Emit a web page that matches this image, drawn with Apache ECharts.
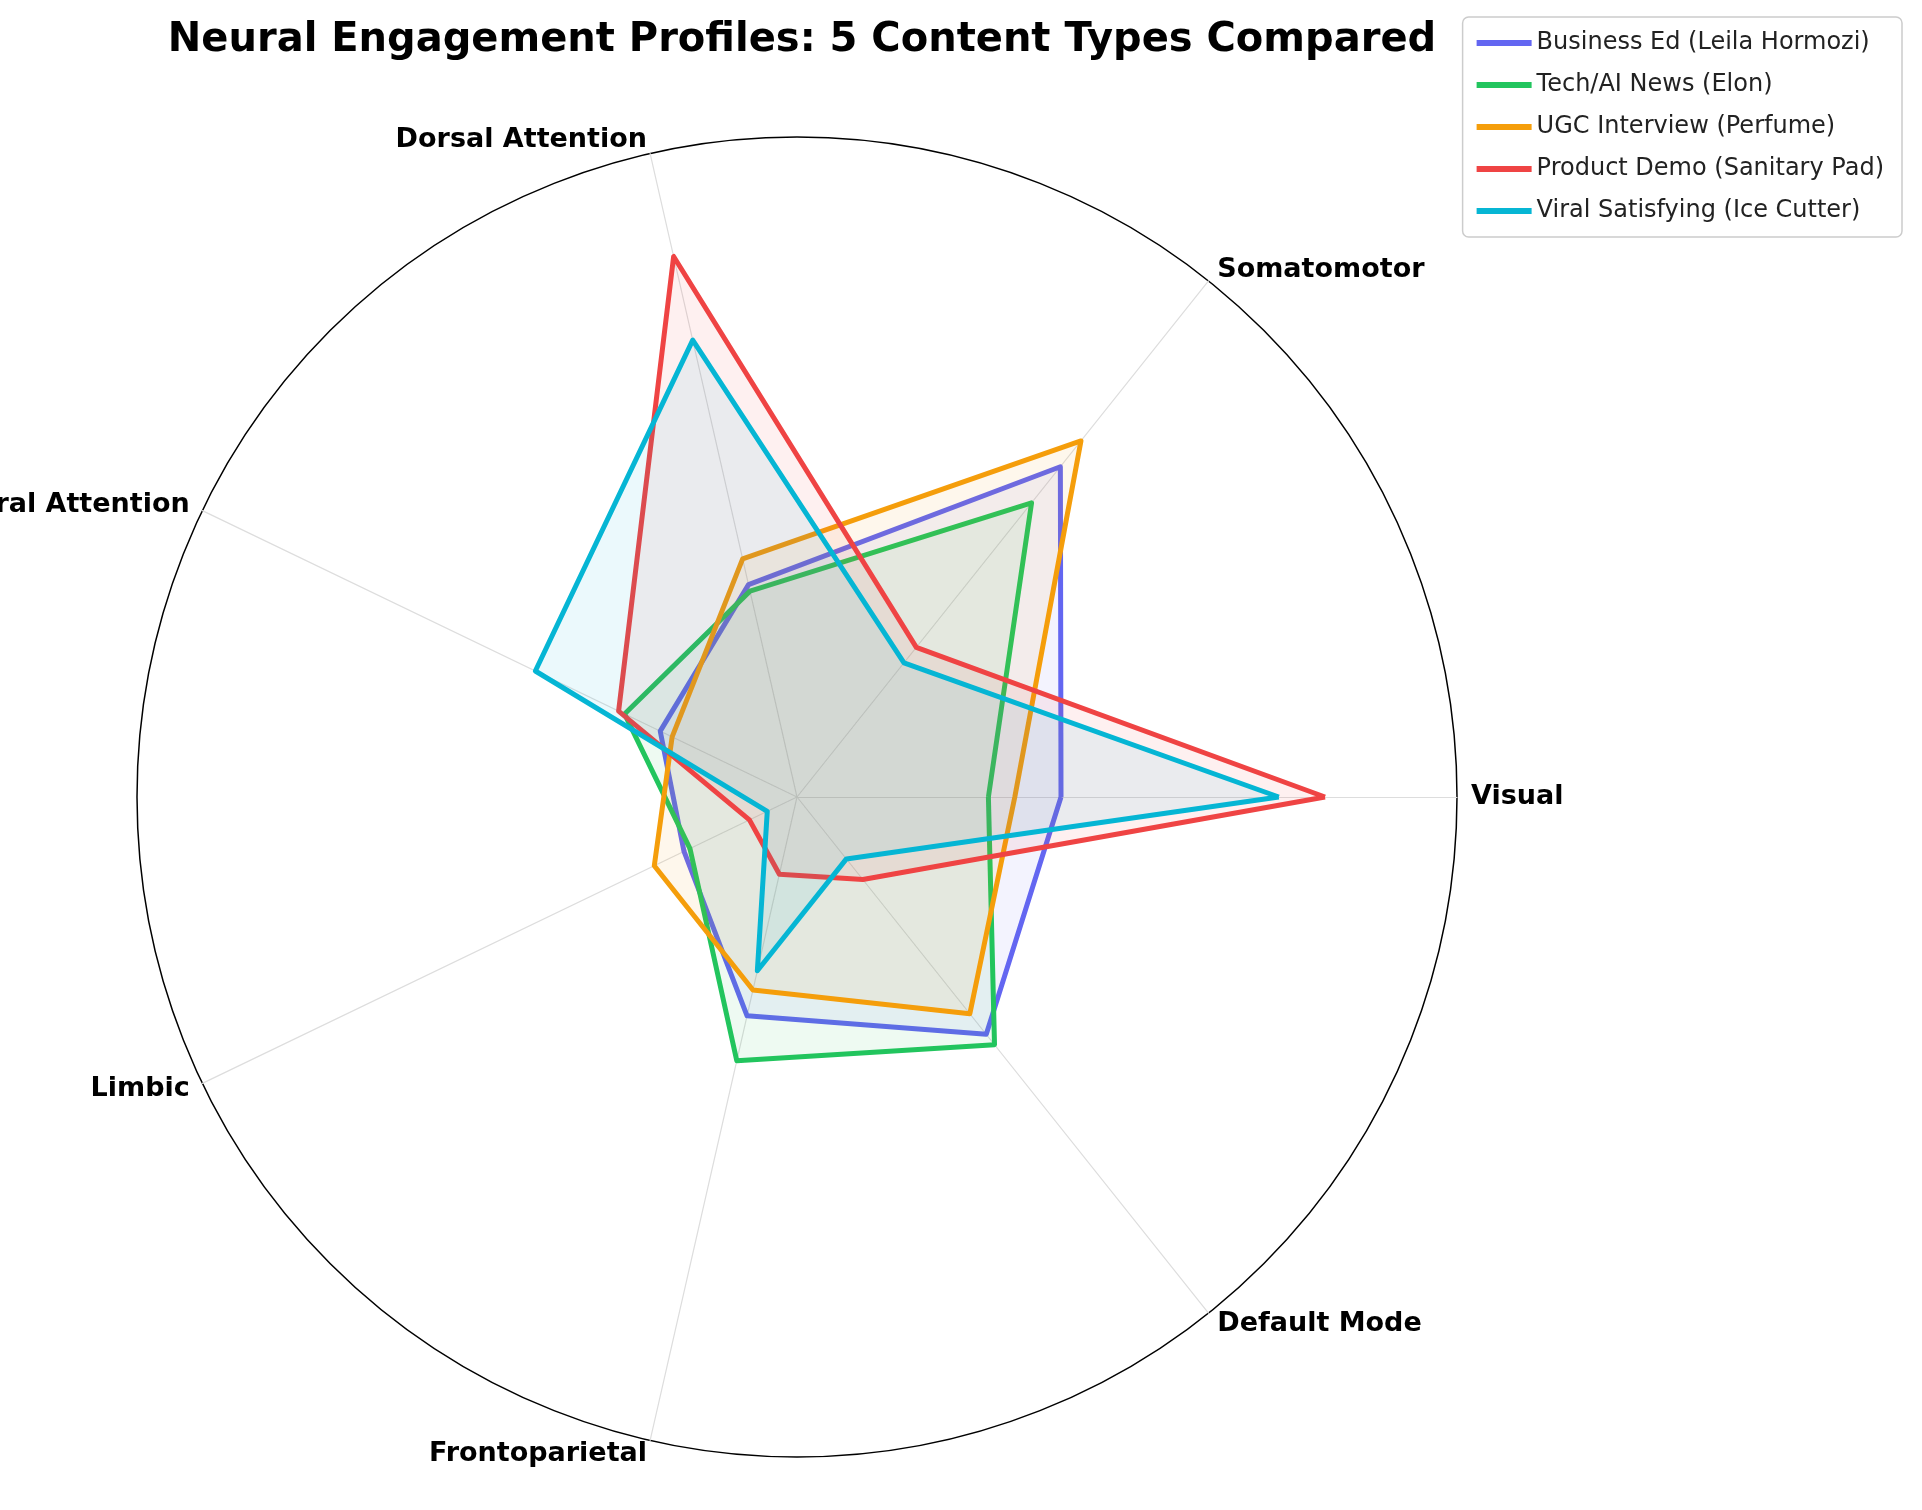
<!DOCTYPE html>
<html><head><meta charset="utf-8">
<script src="https://cdn.jsdelivr.net/npm/echarts@6/dist/echarts.min.js"></script>
<style>html,body{margin:0;padding:0;background:#fff}#c{width:1922px;height:1510px}</style>
</head><body><div id="c"></div>
<script>
const axes = ["Visual","Somatomotor","Dorsal Attention","Ventral Attention","Limbic","Frontoparietal","Default Mode"];
const seriesNames = ["Business Ed (Leila Hormozi)","Tech/AI News (Elon)","UGC Interview (Perfume)","Product Demo (Sanitary Pad)","Viral Satisfying (Ice Cutter)"];
const businessEd = [0.40,0.64,0.33,0.23,0.19,0.34,0.46];
const techNews   = [0.29,0.57,0.32,0.29,0.18,0.41,0.48];
const ugc        = [0.33,0.69,0.37,0.21,0.24,0.30,0.42];
const productDemo= [0.80,0.29,0.84,0.30,0.08,0.12,0.16];
const viral      = [0.73,0.26,0.71,0.44,0.05,0.27,0.12];
const colors = ["#6366f1","#22c55e","#f59e0b","#ef4444","#06b6d4"];
const values = [businessEd, techNews, ugc, productDemo, viral];
const chart = echarts.init(document.getElementById('c'));
chart.setOption({
  animation:false,
  title:{text:"Neural Engagement Profiles: 5 Content Types Compared",left:797,top:16,textAlign:'center',
    textStyle:{fontFamily:'DejaVu Sans',fontSize:40,fontWeight:'bold',color:'#000'}},
  legend:{orient:'vertical',right:20,top:17,data:seriesNames,icon:'rect',itemWidth:55,itemHeight:6,itemGap:18,
    padding:[14,18,14,14],borderColor:'#ccc',borderWidth:1.5,borderRadius:6,backgroundColor:'rgba(255,255,255,0.85)',
    textStyle:{fontFamily:'DejaVu Sans',fontSize:24,color:'#222'}},
  radar:{center:[797,797],radius:660,startAngle:0,shape:'circle',splitNumber:1,
    indicator:axes.map(n=>({name:n,min:0,max:1})),
    axisName:{color:'#000',fontFamily:'DejaVu Sans',fontSize:27,fontWeight:'bold'},
    nameGap:14,
    axisLine:{lineStyle:{color:'#ddd',width:1.2}},
    splitLine:{lineStyle:{color:'#000',width:1.5}},
    splitArea:{show:false},axisTick:{show:false},axisLabel:{show:false}},
  series:[{type:'radar',symbol:'none',
    data:values.map((v,i)=>({name:seriesNames[i],value:v,
      lineStyle:{color:colors[i],width:5},itemStyle:{color:colors[i]},
      areaStyle:{color:colors[i],opacity:0.08}}))}]
});
</script></body></html>
